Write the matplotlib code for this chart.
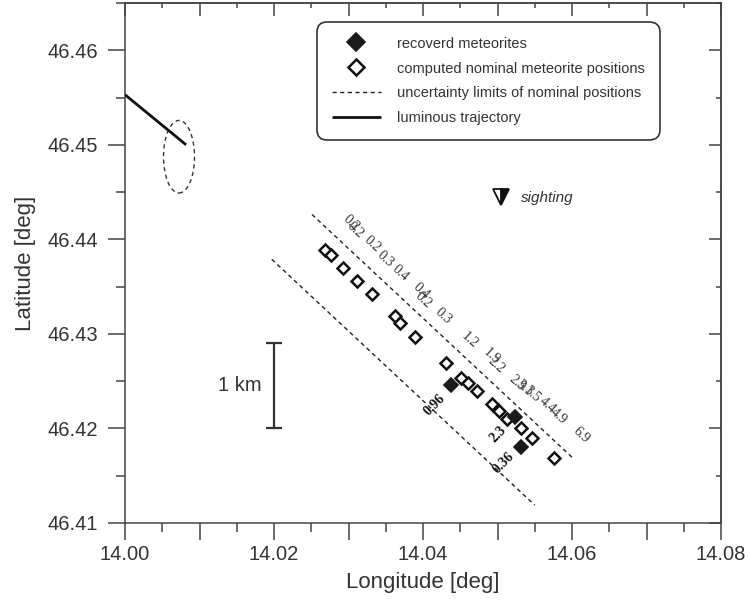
import numpy as np
import matplotlib
matplotlib.use("Agg")
import matplotlib.pyplot as plt
from matplotlib.patches import Ellipse

plt.rcParams['font.family'] = ['Liberation Sans', 'DejaVu Sans']

# ---------------- data ----------------
computed_lon = [14.02685, 14.02765, 14.02926, 14.03114, 14.03315, 14.03624, 14.03691,
                14.03893, 14.04309, 14.04510, 14.04604, 14.04725, 14.04926, 14.05020,
                14.05128, 14.05316, 14.05463, 14.05758]
computed_lat = [46.43884, 46.43832, 46.43695, 46.43558, 46.43421, 46.43189, 46.43116,
                46.42968, 46.42695, 46.42537, 46.42484, 46.42400, 46.42263, 46.42189,
                46.42105, 46.42000, 46.41895, 46.41684]

recovered_lon = [14.04376, 14.05235, 14.05316]
recovered_lat = [46.42463, 46.42116, 46.41800]

upper_limit_lon = [14.0251, 14.0600]
upper_limit_lat = [46.44263, 46.41695]
lower_limit_lon = [14.0197, 14.0550]
lower_limit_lat = [46.43789, 46.41189]

trajectory_lon = [14.0000, 14.0082]
trajectory_lat = [46.4553, 46.4500]

ellipse_center = (14.00725, 46.44874)
ellipse_size = (0.00416, 0.00768)

sighting_lon, sighting_lat = 14.05047, 46.44453

scale_lon = 14.02
scale_lat = [46.420, 46.429]

mass_labels = ["0.2", "0.2", "0.2", "0.3", "0.4", "0.4", "0.2", "0.3", "1.2", "1.9",
               "2.2", "2.9", "3.1", "3.5", "4.4", "4.9", "6.9"]
mass_lon = [14.03034, 14.03087, 14.03315, 14.03490, 14.03691, 14.03973, 14.04000,
            14.04268, 14.04631, 14.04926, 14.04980, 14.05262, 14.05356, 14.05463,
            14.05678, 14.05826, 14.06121]
mass_lat = [46.44168, 46.44095, 46.43947, 46.43789, 46.43642, 46.43453, 46.43358,
            46.43189, 46.42937, 46.42768, 46.42674, 46.42474, 46.42421, 46.42368,
            46.42242, 46.42126, 46.41926]

recovered_labels = ["0.96", "2.3", "0.36"]
recovered_label_lon = [14.04161, 14.05007, 14.05087]
recovered_label_lat = [46.42253, 46.41937, 46.41632]

x_major = [14.00, 14.01, 14.02, 14.03, 14.04, 14.05, 14.06, 14.07, 14.08]
x_labels = ["14.00", "", "14.02", "", "14.04", "", "14.06", "", "14.08"]
y_major = [46.41, 46.42, 46.43, 46.44, 46.45, 46.46]
y_labels = ["46.41", "46.42", "46.43", "46.44", "46.45", "46.46"]

# ---------------- figure ----------------
fig = plt.figure(figsize=(7.5, 6), dpi=100)
ax = fig.add_axes([125/750, 77/600, 596/750, 520/600])
ax.set_xlim(14.00, 14.08)
ax.set_ylim(46.41, 46.4648)

axis_col = '#444444'
text_col = '#333333'

ax.plot(upper_limit_lon, upper_limit_lat, color='#222222', lw=1.0, dashes=(3, 2.5),
        label='uncertainty limits of nominal positions', zorder=2)
ax.plot(lower_limit_lon, lower_limit_lat, color='#222222', lw=1.0, dashes=(3, 2.5), zorder=2)

ax.plot(trajectory_lon, trajectory_lat, color='#111111', lw=2.0, solid_capstyle='butt',
        label='luminous trajectory', zorder=3)

ax.add_patch(Ellipse(ellipse_center, ellipse_size[0], ellipse_size[1], fill=False,
                     edgecolor='#333333', lw=1.0, linestyle=(0, (3, 2.5)), zorder=2))

h_comp, = ax.plot(computed_lon, computed_lat, linestyle='none', marker='D', ms=6.5,
                  mfc='white', mec='#111111', mew=1.8, label='computed nominal meteorite positions',
                  zorder=4)
h_rec, = ax.plot(recovered_lon, recovered_lat, linestyle='none', marker='D', ms=7,
                 mfc='#1a1a1a', mec='#1a1a1a', mew=1.2, label='recoverd meteorites', zorder=5)

for t, x, y in zip(mass_labels, mass_lon, mass_lat):
    ax.text(x, y, t, rotation=-42, rotation_mode='anchor', ha='center', va='center',
            family=['Liberation Serif', 'DejaVu Serif'], fontsize=10, color='#333333')
for t, x, y in zip(recovered_labels, recovered_label_lon, recovered_label_lat):
    ax.text(x, y, t, rotation=45, rotation_mode='anchor', ha='center', va='center',
            family=['Liberation Serif', 'DejaVu Serif'], fontsize=10, fontweight='bold',
            color='#111111')

# sighting
ax.plot([sighting_lon], [sighting_lat], linestyle='none', marker='v', ms=11,
        fillstyle='right', mfc='#111111', mfcalt='white', mec='#111111', mew=1.3, zorder=5)
ax.text(sighting_lon + 0.0027, sighting_lat - 0.0002, 'sighting', style='italic',
        fontsize=11, color=text_col, ha='left', va='center')

# scale bar
ax.errorbar([scale_lon], [np.mean(scale_lat)], yerr=[[np.mean(scale_lat) - scale_lat[0]],
            [scale_lat[1] - np.mean(scale_lat)]], fmt='none', ecolor='#333333',
            elinewidth=1.6, capsize=5.5, capthick=1.6)
ax.text(scale_lon - 0.0017, np.mean(scale_lat), '1 km', ha='right', va='center',
        fontsize=14.5, color=text_col)

# ticks
ax.set_xticks(x_major)
ax.set_xticklabels(x_labels)
ax.set_xticks(np.arange(14.005, 14.08, 0.01), minor=True)
ax.set_yticks(y_major)
ax.set_yticklabels(y_labels)
ax.set_yticks(np.arange(46.415, 46.465, 0.01), minor=True)
ax.tick_params(which='major', direction='out', length=12.5, width=1.1, color=axis_col,
               labelsize=14.5, labelcolor=text_col)
ax.tick_params(which='minor', direction='out', length=6.5, width=1.1, color=axis_col)
ax.tick_params(axis='x', which='major', pad=3)
ax.tick_params(axis='y', which='major', pad=7)
for s in ax.spines.values():
    s.set_color(axis_col)
    s.set_linewidth(1.1)

secx = ax.secondary_xaxis('top')
secx.set_xticks(x_major)
secx.set_xticks(np.arange(14.005, 14.08, 0.01), minor=True)
secx.tick_params(which='major', direction='in', length=9, width=1.1, color=axis_col, labeltop=False)
secx.tick_params(which='minor', direction='in', length=3.5, width=1.1, color=axis_col)
secx.spines['top'].set_color(axis_col)
secx.spines['top'].set_linewidth(1.1)

secy = ax.secondary_yaxis('right')
secy.set_yticks(y_major)
secy.set_yticks(np.arange(46.415, 46.465, 0.01), minor=True)
secy.tick_params(which='major', direction='in', length=9, width=1.1, color=axis_col, labelright=False)
secy.tick_params(which='minor', direction='in', length=3.5, width=1.1, color=axis_col)
secy.spines['right'].set_color(axis_col)
secy.spines['right'].set_linewidth(1.1)

ax.set_xlabel('Longitude [deg]', fontsize=16, color=text_col, labelpad=6)
ax.set_ylabel('Latitude [deg]', fontsize=16, color=text_col, labelpad=8)

h_dash, h_traj = ax.get_lines()[0], ax.get_lines()[2]
leg = ax.legend([h_rec, h_comp, h_dash, h_traj],
                ['recoverd meteorites', 'computed nominal meteorite positions',
                 'uncertainty limits of nominal positions', 'luminous trajectory'],
                loc='upper left', bbox_to_anchor=(317/750, 1 - 22/600),
                bbox_transform=fig.transFigure, borderaxespad=0, fontsize=10.5,
                handlelength=3.4, handletextpad=1.1, labelspacing=0.75, borderpad=1.0,
                markerscale=1.25, frameon=True, fancybox=True, labelcolor=text_col)
fr = leg.get_frame()
fr.set_edgecolor('#333333')
fr.set_linewidth(1.2)
fr.set_alpha(1)
fr.set_boxstyle('round,pad=0,rounding_size=0.7')

fig.savefig('out.png', dpi=100)
